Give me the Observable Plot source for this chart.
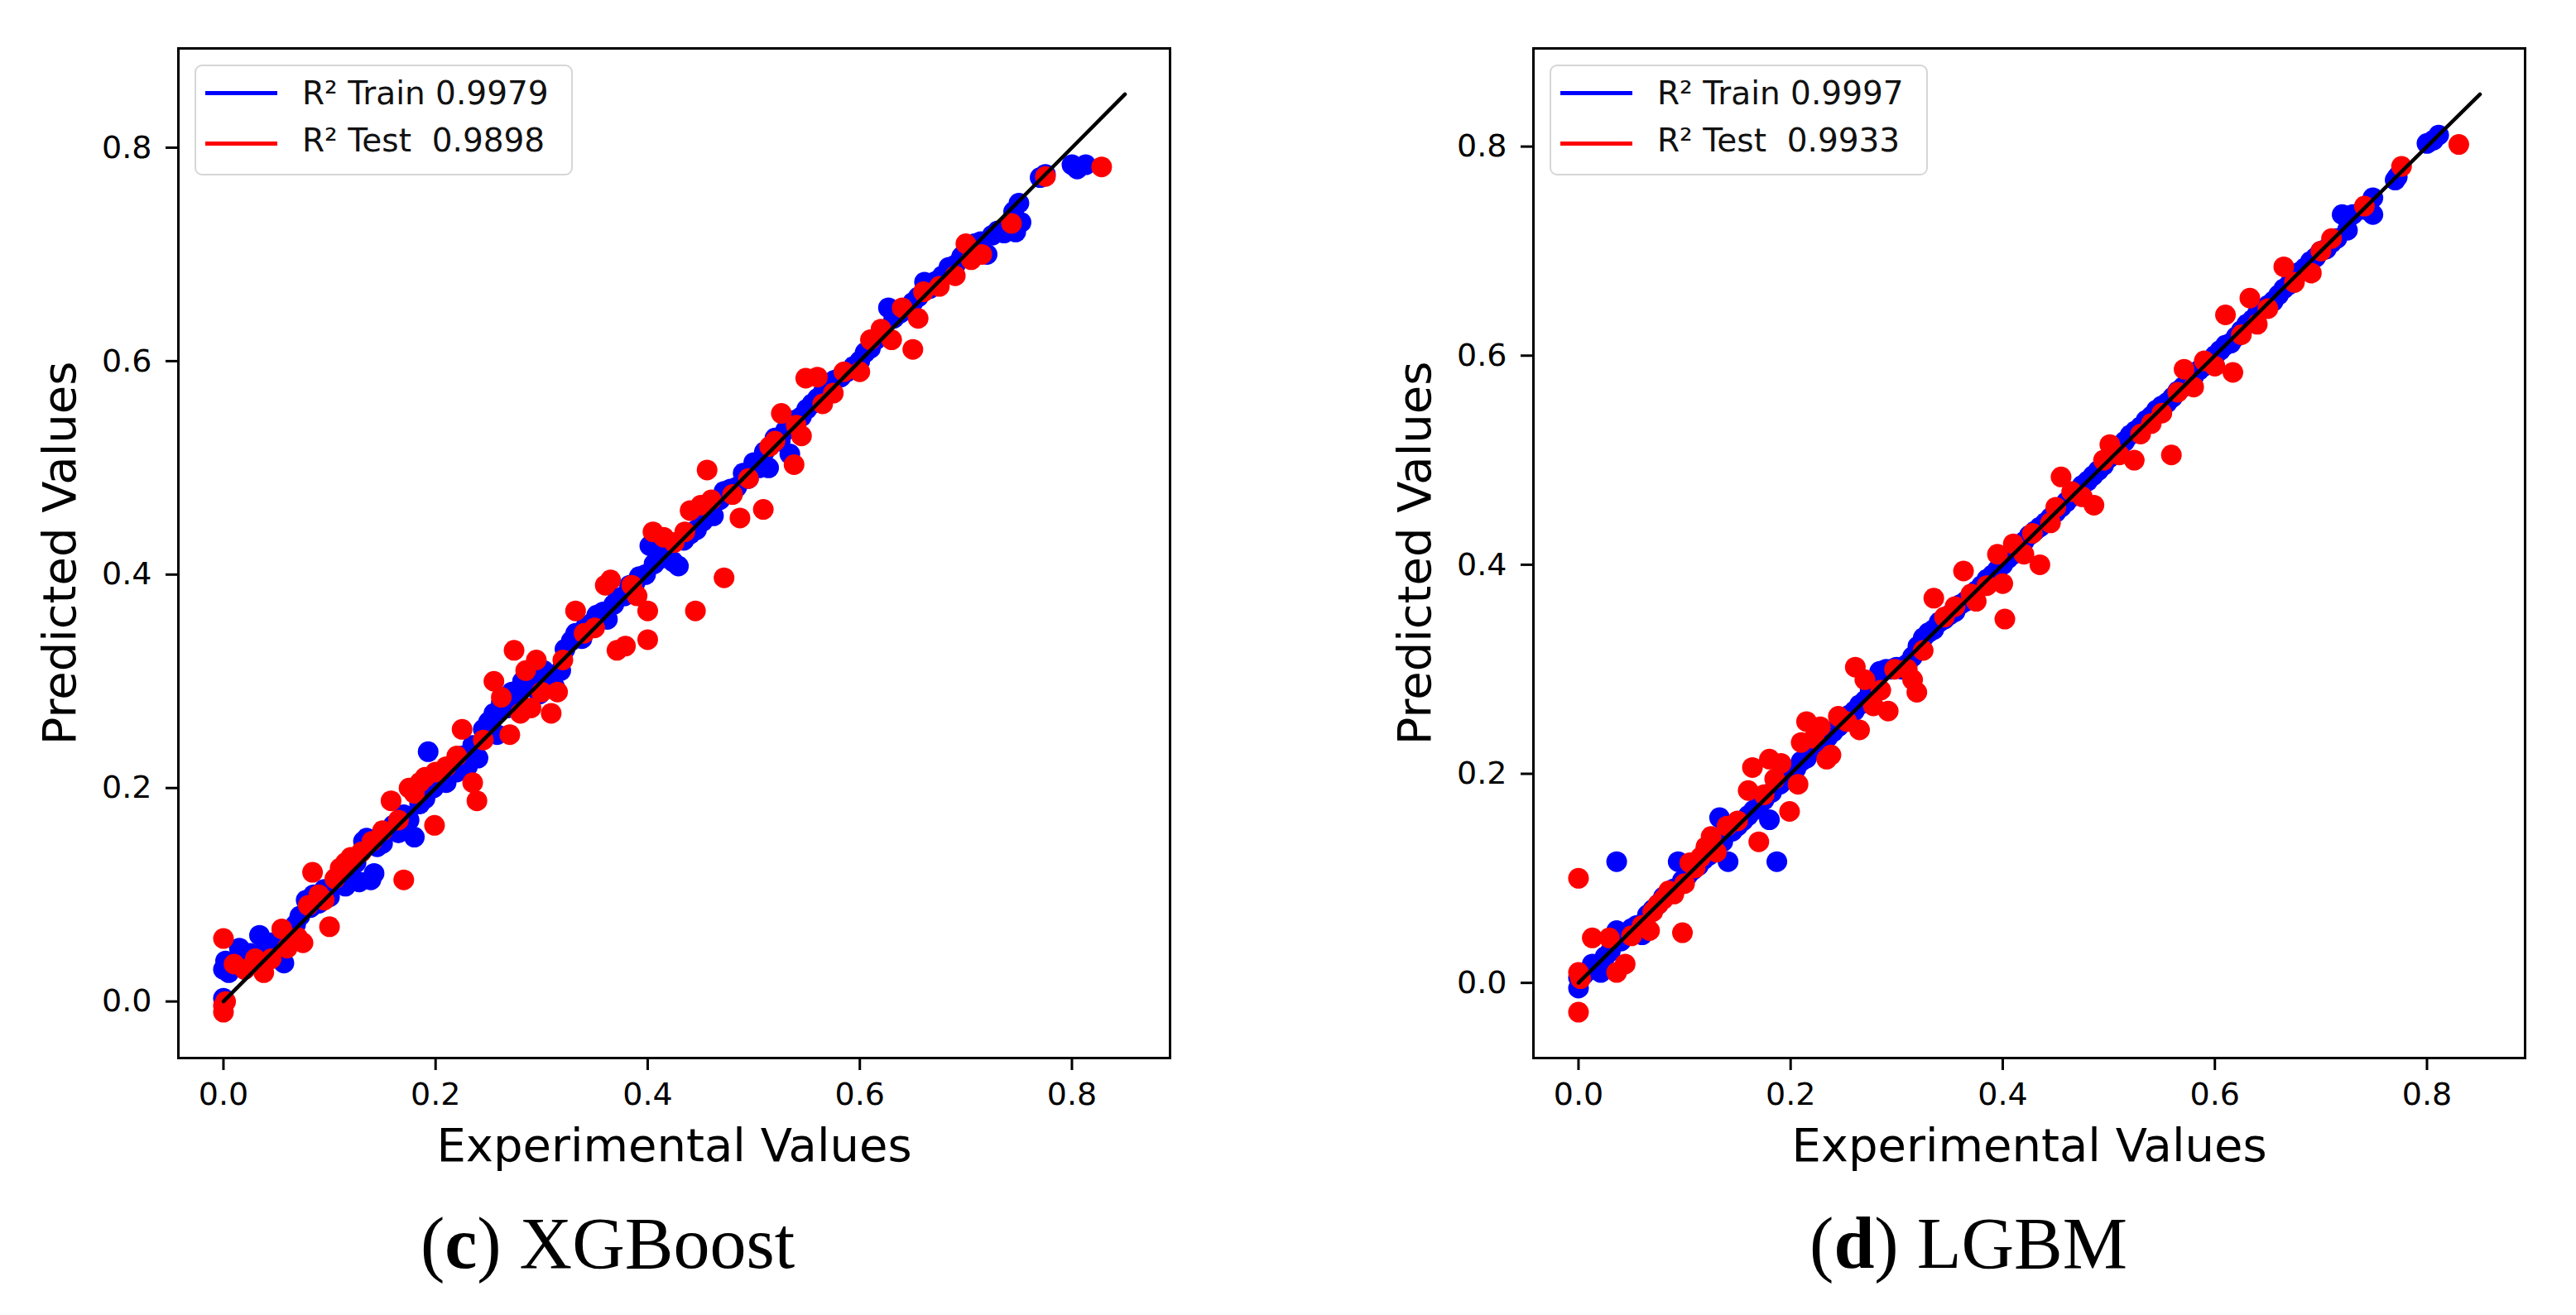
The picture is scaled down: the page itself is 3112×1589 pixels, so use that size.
<!DOCTYPE html>
<html>
<head>
<meta charset="utf-8">
<script src="https://cdn.jsdelivr.net/npm/d3@7"></script>
<script src="https://cdn.jsdelivr.net/npm/@observablehq/plot@0.6"></script>
<style>
  html, body { margin: 0; padding: 0; background: #fff; }
  #wrap { position: relative; width: 3112px; height: 1589px; background: #fff; overflow: hidden; }
  .panel { position: absolute; top: 0; }
  .legend { position: absolute; top: 78px; width: 453px; height: 130px; border: 2px solid #d6d6d6; border-radius: 9px; background: rgba(255,255,255,0.85); font-family: "DejaVu Sans", sans-serif; font-size: 39px; color: #111; }
  .legend .sw { position: absolute; left: 11px; width: 87px; height: 5px; }
  .legend .tx { position: absolute; left: 128px; line-height: 39px; white-space: pre; }
  .caption { position: absolute; top: 1460px; text-align: center; font-family: "Liberation Serif", "DejaVu Serif", serif; font-size: 88px; line-height: 86px; color: #000; }
</style>
</head>
<body>
<div id="wrap">
  <div id="p1" class="panel" style="left:0px"></div>
  <div id="p2" class="panel" style="left:1556px"></div>
  <div id="leg1" class="legend" style="left:235px"></div>
  <div id="leg2" class="legend" style="left:1872px"></div>
  <div id="cap1" class="caption" style="left:0px;width:1468px"></div>
  <div id="cap2" class="caption" style="left:1556px;width:1644px"></div>
</div>
<script>
// ---------------- DATA ----------------
const xTicks = [0.0, 0.2, 0.4, 0.6, 0.8];
const yTicks = [0.0, 0.2, 0.4, 0.6, 0.8];
const diagonal = [0, 0.85];
const xLabel = "Experimental Values";
const yLabel = "Predicted Values";
const captions = [["c", "XGBoost"], ["d", "LGBM"]];
const legendXgb = ["R\u00B2 Train 0.9979", "R\u00B2 Test  0.9898"];
const legendLgbm = ["R\u00B2 Train 0.9997", "R\u00B2 Test  0.9933"];

// XGBoost train (x = experimental, y = predicted)
const xgbTrainX = [0.000,0.000,0.002,0.005,0.010,0.015,0.020,0.025,0.030,0.034,0.040,0.045,0.050,0.057,0.062,0.068,0.072,0.078,0.082,0.085,0.090,0.095,0.100,0.105,0.110,0.115,0.120,0.125,0.128,0.132,0.135,0.139,0.142,0.145,0.150,0.155,0.160,0.165,0.170,0.175,0.180,0.185,0.190,0.193,0.198,0.205,0.210,0.215,0.220,0.225,0.230,0.235,0.240,0.245,0.250,0.255,0.258,0.262,0.268,0.272,0.278,0.282,0.288,0.292,0.298,0.302,0.308,0.312,0.318,0.322,0.328,0.332,0.338,0.342,0.348,0.352,0.358,0.362,0.368,0.372,0.378,0.383,0.388,0.392,0.398,0.402,0.406,0.412,0.418,0.424,0.429,0.434,0.440,0.446,0.452,0.458,0.462,0.468,0.472,0.478,0.484,0.490,0.495,0.500,0.505,0.510,0.514,0.520,0.525,0.530,0.534,0.540,0.545,0.550,0.555,0.560,0.565,0.570,0.576,0.582,0.588,0.594,0.600,0.605,0.610,0.615,0.620,0.627,0.632,0.638,0.644,0.650,0.655,0.661,0.666,0.672,0.678,0.684,0.690,0.696,0.702,0.708,0.714,0.720,0.725,0.730,0.736,0.742,0.745,0.747,0.750,0.752,0.770,0.775,0.800,0.805,0.813];
const xgbTrainY = [0.003,0.030,0.038,0.027,0.035,0.050,0.030,0.045,0.040,0.062,0.050,0.055,0.048,0.036,0.060,0.072,0.080,0.095,0.088,0.100,0.092,0.105,0.098,0.110,0.118,0.108,0.125,0.130,0.112,0.150,0.153,0.114,0.120,0.145,0.148,0.160,0.165,0.158,0.175,0.170,0.154,0.185,0.190,0.234,0.200,0.210,0.205,0.220,0.215,0.230,0.220,0.240,0.228,0.255,0.262,0.270,0.250,0.280,0.275,0.290,0.282,0.300,0.295,0.305,0.288,0.310,0.300,0.295,0.310,0.330,0.338,0.345,0.340,0.352,0.355,0.362,0.365,0.358,0.372,0.378,0.380,0.390,0.392,0.398,0.400,0.427,0.410,0.415,0.420,0.412,0.408,0.432,0.438,0.442,0.450,0.460,0.455,0.470,0.478,0.480,0.482,0.495,0.490,0.505,0.500,0.515,0.500,0.528,0.525,0.535,0.513,0.545,0.548,0.555,0.560,0.565,0.570,0.575,0.582,0.585,0.590,0.595,0.600,0.608,0.612,0.620,0.625,0.650,0.640,0.645,0.648,0.655,0.660,0.674,0.668,0.675,0.680,0.688,0.690,0.698,0.705,0.710,0.712,0.700,0.718,0.722,0.720,0.730,0.740,0.721,0.748,0.730,0.772,0.775,0.784,0.780,0.784];

// XGBoost test
const xgbTestX = [0.000,0.000,0.000,0.002,0.010,0.020,0.030,0.038,0.045,0.055,0.060,0.070,0.075,0.080,0.084,0.090,0.095,0.100,0.105,0.110,0.115,0.120,0.130,0.140,0.150,0.158,0.165,0.170,0.175,0.180,0.185,0.190,0.199,0.200,0.210,0.220,0.225,0.235,0.239,0.245,0.255,0.262,0.270,0.274,0.280,0.285,0.290,0.295,0.300,0.309,0.315,0.320,0.332,0.340,0.350,0.360,0.365,0.371,0.379,0.385,0.390,0.400,0.400,0.405,0.415,0.425,0.435,0.440,0.445,0.450,0.456,0.460,0.472,0.480,0.487,0.495,0.509,0.515,0.520,0.526,0.538,0.540,0.545,0.549,0.560,0.565,0.575,0.585,0.600,0.610,0.620,0.630,0.640,0.650,0.655,0.660,0.675,0.690,0.700,0.705,0.715,0.743,0.775,0.828];
const xgbTestY = [0.059,-0.004,-0.010,0.000,0.035,0.030,0.040,0.027,0.040,0.068,0.050,0.060,0.055,0.090,0.121,0.100,0.095,0.070,0.115,0.125,0.130,0.135,0.140,0.150,0.160,0.188,0.170,0.114,0.200,0.195,0.205,0.210,0.165,0.215,0.220,0.230,0.255,0.205,0.188,0.245,0.300,0.285,0.250,0.329,0.270,0.310,0.275,0.320,0.290,0.270,0.290,0.320,0.366,0.345,0.350,0.390,0.395,0.329,0.333,0.390,0.380,0.339,0.366,0.440,0.435,0.430,0.440,0.460,0.366,0.465,0.498,0.470,0.397,0.475,0.453,0.490,0.461,0.520,0.525,0.551,0.503,0.540,0.530,0.584,0.585,0.560,0.570,0.590,0.590,0.620,0.630,0.620,0.650,0.611,0.640,0.665,0.670,0.680,0.710,0.695,0.700,0.729,0.773,0.782];

// LGBM train
const lgbmTrainX = [0.000,0.000,0.005,0.010,0.013,0.021,0.025,0.030,0.036,0.036,0.040,0.045,0.050,0.055,0.060,0.065,0.070,0.075,0.080,0.085,0.090,0.094,0.098,0.103,0.108,0.113,0.118,0.123,0.128,0.133,0.136,0.141,0.145,0.150,0.155,0.160,0.165,0.170,0.175,0.180,0.182,0.187,0.190,0.195,0.200,0.205,0.210,0.215,0.220,0.225,0.230,0.235,0.240,0.245,0.250,0.255,0.260,0.265,0.270,0.275,0.280,0.284,0.290,0.295,0.300,0.305,0.310,0.315,0.320,0.325,0.330,0.335,0.340,0.345,0.350,0.355,0.360,0.365,0.370,0.375,0.380,0.385,0.390,0.395,0.400,0.405,0.410,0.415,0.420,0.425,0.430,0.435,0.440,0.445,0.450,0.455,0.460,0.465,0.470,0.475,0.480,0.485,0.490,0.495,0.500,0.505,0.510,0.515,0.520,0.525,0.530,0.535,0.540,0.545,0.550,0.555,0.560,0.565,0.570,0.575,0.580,0.585,0.590,0.595,0.600,0.605,0.610,0.615,0.620,0.625,0.630,0.635,0.640,0.645,0.650,0.655,0.660,0.665,0.670,0.675,0.680,0.685,0.690,0.695,0.700,0.705,0.710,0.715,0.720,0.725,0.730,0.740,0.749,0.749,0.770,0.772,0.800,0.806,0.811];
const lgbmTrainY = [-0.005,0.005,0.008,0.012,0.018,0.010,0.025,0.030,0.050,0.116,0.040,0.045,0.052,0.055,0.046,0.065,0.070,0.075,0.082,0.085,0.090,0.116,0.098,0.103,0.108,0.112,0.118,0.122,0.128,0.158,0.135,0.116,0.145,0.150,0.155,0.160,0.165,0.170,0.175,0.156,0.182,0.116,0.190,0.195,0.200,0.205,0.212,0.215,0.222,0.225,0.230,0.235,0.240,0.245,0.250,0.256,0.260,0.266,0.270,0.280,0.285,0.298,0.300,0.300,0.302,0.300,0.305,0.312,0.322,0.330,0.335,0.338,0.345,0.348,0.352,0.355,0.362,0.365,0.370,0.375,0.380,0.386,0.390,0.395,0.400,0.406,0.410,0.415,0.422,0.428,0.432,0.436,0.440,0.445,0.450,0.455,0.460,0.465,0.470,0.476,0.480,0.485,0.490,0.495,0.502,0.506,0.512,0.518,0.524,0.528,0.532,0.538,0.542,0.548,0.552,0.555,0.560,0.566,0.570,0.578,0.580,0.586,0.590,0.595,0.600,0.605,0.610,0.612,0.618,0.624,0.630,0.634,0.640,0.645,0.648,0.652,0.658,0.664,0.668,0.672,0.680,0.684,0.690,0.694,0.700,0.702,0.708,0.712,0.735,0.720,0.735,0.740,0.751,0.735,0.768,0.771,0.803,0.806,0.811];

// LGBM test
const lgbmTestX = [0.000,0.000,0.000,0.002,0.013,0.029,0.036,0.044,0.050,0.060,0.067,0.070,0.075,0.080,0.085,0.090,0.098,0.100,0.105,0.110,0.115,0.120,0.125,0.130,0.140,0.150,0.160,0.164,0.170,0.175,0.180,0.185,0.191,0.199,0.207,0.210,0.215,0.222,0.228,0.234,0.238,0.245,0.253,0.261,0.265,0.270,0.278,0.285,0.292,0.298,0.310,0.315,0.319,0.325,0.335,0.345,0.355,0.363,0.370,0.375,0.385,0.395,0.400,0.402,0.410,0.420,0.428,0.435,0.445,0.450,0.455,0.465,0.475,0.486,0.495,0.501,0.510,0.524,0.530,0.540,0.550,0.559,0.565,0.571,0.580,0.590,0.600,0.610,0.617,0.625,0.633,0.640,0.650,0.665,0.675,0.691,0.700,0.710,0.741,0.776,0.830];
const lgbmTestY = [0.100,-0.028,0.010,0.004,0.043,0.043,0.010,0.018,0.045,0.055,0.050,0.068,0.075,0.080,0.088,0.085,0.048,0.095,0.115,0.110,0.120,0.130,0.140,0.125,0.150,0.155,0.184,0.206,0.135,0.180,0.214,0.195,0.210,0.164,0.190,0.230,0.250,0.234,0.245,0.214,0.218,0.255,0.250,0.302,0.242,0.290,0.265,0.280,0.260,0.300,0.300,0.290,0.278,0.318,0.368,0.350,0.360,0.394,0.372,0.365,0.380,0.410,0.382,0.348,0.420,0.410,0.430,0.400,0.440,0.455,0.484,0.470,0.465,0.457,0.500,0.515,0.505,0.500,0.525,0.535,0.545,0.505,0.565,0.587,0.570,0.595,0.590,0.639,0.584,0.620,0.655,0.630,0.645,0.685,0.670,0.679,0.700,0.712,0.743,0.781,0.802];

// ---------------- DRAW ----------------
function zipXY(xs, ys) { return xs.map((x, i) => ({x, y: ys[i]})); }

function padded(minV, maxV) {
  const m = (maxV - minV) * 0.05;
  return [minV - m, maxV + m];
}

function panel(trainX, trainY, testX, testY, marginLeft, marginRight) {
  const train = zipXY(trainX, trainY);
  const test = zipXY(testX, testY);
  const line = diagonal.map(v => ({x: v, y: v}));
  const allX = trainX.concat(testX, diagonal);
  const allY = trainY.concat(testY, diagonal);
  const xDom = padded(d3.min(allX), d3.max(allX));
  const yDom = padded(d3.min(allY), d3.max(allY));
  const fmt = d3.format(".1f");
  return Plot.plot({
    width: 1556,
    height: 1440,
    marginLeft, marginRight,
    marginTop: 58,
    marginBottom: 162,
    style: {fontFamily: "DejaVu Sans, sans-serif", fontSize: "38px", color: "#000", background: "transparent"},
    x: {domain: xDom},
    y: {domain: yDom},
    marks: [
      Plot.dot(train, {x: "x", y: "y", r: 12.5, fill: "#0000ff", stroke: "none"}),
      Plot.dot(test, {x: "x", y: "y", r: 12.5, fill: "#ff0000", stroke: "none"}),
      Plot.line(line, {x: "x", y: "y", stroke: "#000", strokeWidth: 4.5}),
      Plot.frame({stroke: "#000", strokeWidth: 3}),
      Plot.axisX({ticks: xTicks, tickFormat: fmt, tickSize: 15, tickPadding: 15, strokeWidth: 3, label: null, fontSize: 38}),
      Plot.axisY({ticks: yTicks, tickFormat: fmt, tickSize: 15, tickPadding: 17, strokeWidth: 3, label: null, fontSize: 38}),
      Plot.text([xLabel], {frameAnchor: "bottom", textAnchor: "middle", dy: 124, fontSize: 56, text: d => d, fill: "#000"}),
      Plot.text([yLabel], {frameAnchor: "left", textAnchor: "middle", dx: -142, rotate: -90, fontSize: 56, text: d => d, fill: "#000"})
    ]
  });
}

document.getElementById("p1").appendChild(panel(xgbTrainX, xgbTrainY, xgbTestX, xgbTestY, 215, 143));
document.getElementById("p2").appendChild(panel(lgbmTrainX, lgbmTrainY, lgbmTestX, lgbmTestY, 296, 62));

function fillLegend(id, labels) {
  const el = document.getElementById(id);
  const colors = ["#0000ff", "#ff0000"];
  const swTop = [30, 91];
  const txTop = [13, 70];
  labels.forEach((lab, i) => {
    const s = document.createElement("div");
    s.className = "sw";
    s.style.top = swTop[i] + "px";
    s.style.background = colors[i];
    el.appendChild(s);
    const t = document.createElement("div");
    t.className = "tx";
    t.style.top = txTop[i] + "px";
    t.textContent = lab;
    el.appendChild(t);
  });
}
fillLegend("leg1", legendXgb);
fillLegend("leg2", legendLgbm);

function fillCaption(id, cap) {
  const el = document.getElementById(id);
  el.innerHTML = "(<b>" + cap[0] + "</b>) " + cap[1];
}
fillCaption("cap1", captions[0]);
fillCaption("cap2", captions[1]);
</script>
</body>
</html>
